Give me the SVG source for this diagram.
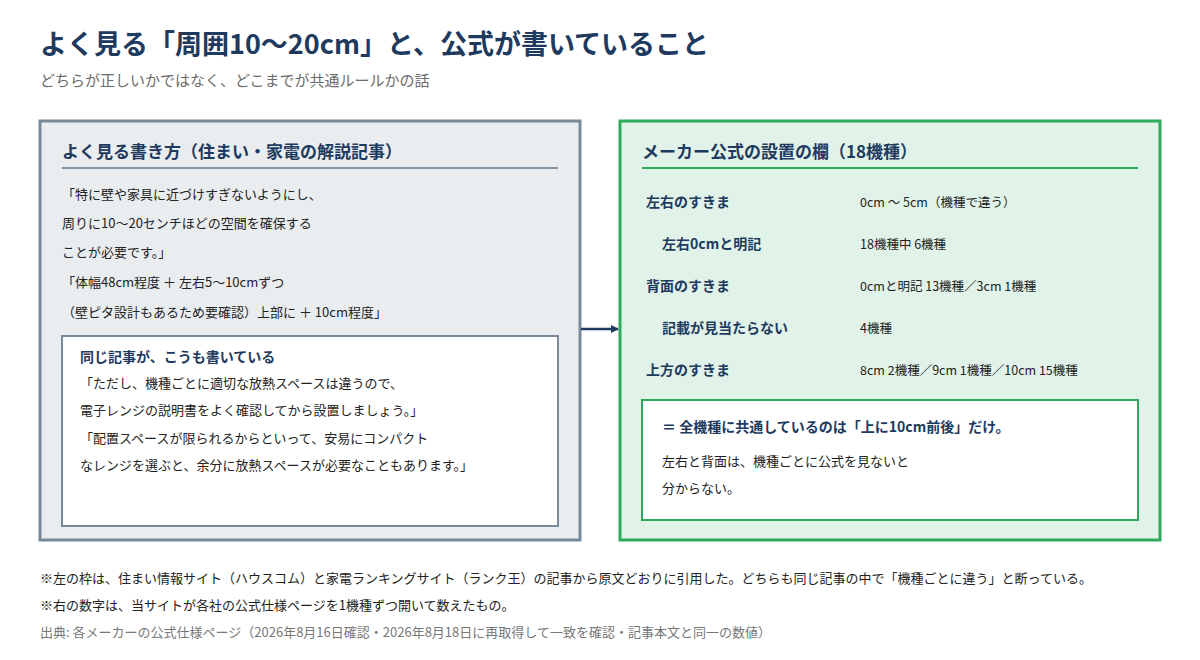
<svg xmlns="http://www.w3.org/2000/svg" width="1200" height="660" viewBox="0 0 1200 660">
<style>
text{font-family:"Noto Sans CJK JP","Noto Sans",sans-serif;}
.t{font-size:27px;font-weight:bold;fill:#1f3a5f}
.st{font-size:15px;fill:#6b6b6b}
.h{font-size:17px;font-weight:bold;fill:#1f3a5f}
.b{font-size:13px;fill:#222}
.sh{font-size:14px;font-weight:bold;fill:#1f3a5f}
.lb{font-size:14px;font-weight:bold;fill:#1f3a5f}
.v{font-size:12.5px;fill:#222}
.f{font-size:13px;fill:#222}
.src{font-size:13px;fill:#777}
</style>
<defs><marker id="ar" markerWidth="8" markerHeight="8" refX="7" refY="4" orient="auto" markerUnits="userSpaceOnUse"><path d="M0,0 L8,4 L0,8 Z" fill="#1f3a5f"/></marker></defs>
<rect width="1200" height="660" fill="#fff"/>
<text class="t" x="40" y="54">よく見る「周囲10〜20cm」と、公式が書いていること</text>
<text class="st" x="40" y="86">どちらが正しいかではなく、どこまでが共通ルールかの話</text>
<g id="left">
<rect x="40" y="121" width="540" height="419" fill="#e9edf0" stroke="#788a99" stroke-width="3"/>
<text class="h" x="62" y="158">よく見る書き方（住まい・家電の解説記事）</text>
<line x1="62" y1="168" x2="558" y2="168" stroke="#8496a6" stroke-width="2"/>
<text class="b" x="62" y="199">「特に壁や家具に近づけすぎないようにし、</text>
<text class="b" x="62" y="228">周りに10〜20センチほどの空間を確保する</text>
<text class="b" x="62" y="257">ことが必要です。」</text>
<text class="b" x="62" y="287">「体幅48cm程度 ＋ 左右5〜10cmずつ</text>
<text class="b" x="62" y="317">（壁ピタ設計もあるため要確認）上部に ＋ 10cm程度」</text>
</g>
<g id="left-quote">
<rect x="62" y="336" width="496" height="190" fill="#fff" stroke="#788a99" stroke-width="2"/>
<text class="sh" x="80" y="362">同じ記事が、こうも書いている</text>
<text class="b" x="80" y="388">「ただし、機種ごとに適切な放熱スペースは違うので、</text>
<text class="b" x="80" y="415">電子レンジの説明書をよく確認してから設置しましょう。」</text>
<text class="b" x="80" y="443">「配置スペースが限られるからといって、安易にコンパクト</text>
<text class="b" x="80" y="470">なレンジを選ぶと、余分に放熱スペースが必要なこともあります。」</text>
</g>
<g id="connectors">
<line x1="581" y1="329" x2="618" y2="329" stroke="#1f3a5f" stroke-width="2.5" marker-end="url(#ar)"/>
</g>
<g id="right">
<rect x="620" y="121" width="540" height="419" fill="#e1f2e8" stroke="#2eaa5c" stroke-width="3"/>
<text class="h" x="642" y="158">メーカー公式の設置の欄（18機種）</text>
<line x1="642" y1="168" x2="1138" y2="168" stroke="#2eaa5c" stroke-width="2"/>
<text class="lb" x="646" y="207">左右のすきま</text><text class="v" x="860" y="207">0cm 〜 5cm（機種で違う）</text>
<text class="lb" x="662" y="249">左右0cmと明記</text><text class="v" x="860" y="249">18機種中 6機種</text>
<text class="lb" x="646" y="291">背面のすきま</text><text class="v" x="860" y="291">0cmと明記 13機種／3cm 1機種</text>
<text class="lb" x="662" y="333">記載が見当たらない</text><text class="v" x="860" y="333">4機種</text>
<text class="lb" x="646" y="375">上方のすきま</text><text class="v" x="860" y="375">8cm 2機種／9cm 1機種／10cm 15機種</text>
</g>
<g id="right-summary">
<rect x="642" y="400" width="496" height="120" fill="#fff" stroke="#2eaa5c" stroke-width="2"/>
<text class="sh" x="662" y="432">＝ 全機種に共通しているのは「上に10cm前後」だけ。</text>
<text class="b" x="662" y="466">左右と背面は、機種ごとに公式を見ないと</text>
<text class="b" x="662" y="493">分からない。</text>
</g>
<text class="f" x="40" y="583">※左の枠は、住まい情報サイト（ハウスコム）と家電ランキングサイト（ランク王）の記事から原文どおりに引用した。どちらも同じ記事の中で「機種ごとに違う」と断っている。</text>
<text class="f" x="40" y="610">※右の数字は、当サイトが各社の公式仕様ページを1機種ずつ開いて数えたもの。</text>
<text class="src" x="40" y="637">出典: 各メーカーの公式仕様ページ（2026年8月16日確認・2026年8月18日に再取得して一致を確認・記事本文と同一の数値）</text>
</svg>
